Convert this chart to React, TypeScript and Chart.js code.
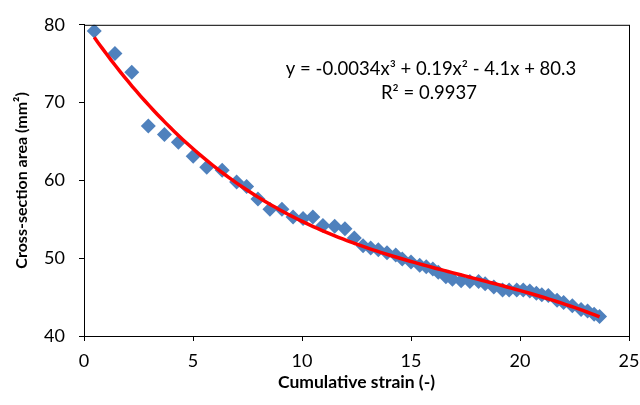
import React, { useEffect, useRef } from "react";
import { Chart, registerables } from "chart.js";

Chart.register(...registerables);

const strainValues = [
  0.47, 1.42, 2.19, 2.95, 3.69, 4.33, 5.01, 5.63, 6.34, 7.0, 7.46, 7.98, 8.53,
  9.08, 9.59, 10.05, 10.5, 10.96, 11.5, 11.97, 12.4, 12.8, 13.15, 13.5, 13.9,
  14.3, 14.6, 15.0, 15.4, 15.7, 16.0, 16.25, 16.6, 16.9, 17.3, 17.7, 18.1,
  18.4, 18.8, 19.2, 19.5, 19.85, 20.15, 20.45, 20.75, 21.0, 21.3, 21.7, 22.0,
  22.4, 22.8, 23.1, 23.4, 23.65,
];
const areaValues = [
  79.2, 76.3, 73.9, 67.0, 65.9, 64.9, 63.1, 61.7, 61.3, 59.8, 59.2, 57.6, 56.3,
  56.3, 55.3, 55.1, 55.3, 54.2, 54.1, 53.8, 52.6, 51.6, 51.3, 51.1, 50.7,
  50.4, 49.9, 49.5, 49.1, 48.9, 48.6, 48.2, 47.6, 47.3, 47.1, 47.0, 47.0,
  46.7, 46.3, 45.9, 45.9, 45.9, 45.9, 45.8, 45.5, 45.3, 45.2, 44.6, 44.3,
  43.9, 43.4, 43.2, 42.8, 42.5,
];
const xTickValues = [0, 5, 10, 15, 20, 25];
const yTickValues = [40, 50, 60, 70, 80];
const equationText = "y = -0.0034x\u00B3 + 0.19x\u00B2 - 4.1x + 80.3";
const r2Text = "R\u00B2 = 0.9937";
const xTitle = "Cumulative strain (-)";
const yTitle = "Cross-section area (mm\u00B2)";

// Least-squares cubic trendline (as the spreadsheet does)
function cubicFit(xs: number[], ys: number[]): number[] {
  const n = 4;
  const A: number[][] = [];
  for (let i = 0; i < n; i++) {
    const row: number[] = [];
    for (let j = 0; j < n; j++) {
      let s = 0;
      for (let k = 0; k < xs.length; k++) s += Math.pow(xs[k], i + j);
      row.push(s);
    }
    let b = 0;
    for (let k = 0; k < xs.length; k++) b += ys[k] * Math.pow(xs[k], i);
    row.push(b);
    A.push(row);
  }
  for (let c = 0; c < n; c++) {
    let p = c;
    for (let r = c + 1; r < n; r++) if (Math.abs(A[r][c]) > Math.abs(A[p][c])) p = r;
    [A[c], A[p]] = [A[p], A[c]];
    for (let r = 0; r < n; r++) {
      if (r === c) continue;
      const f = A[r][c] / A[c][c];
      for (let j = c; j <= n; j++) A[r][j] -= f * A[c][j];
    }
  }
  return A.map((row, i) => row[n] / row[i]);
}

const FONT = "Lato, 'Open Sans', sans-serif";

export default function App() {
  const ref = useRef<HTMLCanvasElement | null>(null);
  useEffect(() => {
    document.body.style.margin = "0";
    const coef = cubicFit(strainValues, areaValues);
    const xmin = Math.min(...strainValues);
    const xmax = Math.max(...strainValues);
    const trend: { x: number; y: number }[] = [];
    const steps = 120;
    for (let i = 0; i <= steps; i++) {
      const x = xmin + ((xmax - xmin) * i) / steps;
      trend.push({ x, y: coef[0] + coef[1] * x + coef[2] * x * x + coef[3] * x * x * x });
    }
    const points = strainValues.map((x, i) => ({ x, y: areaValues[i] }));

    const framePlugin = {
      id: "frame",
      afterDraw(chart: any) {
        const { ctx, chartArea } = chart;
        ctx.save();
        ctx.strokeStyle = "#000";
        ctx.lineWidth = 1;
        ctx.strokeRect(chartArea.left + 0.5, chartArea.top + 0.5, chartArea.right - chartArea.left, chartArea.bottom - chartArea.top);
        ctx.fillStyle = "#000";
        ctx.font = `18.5px ${FONT}`;
        ctx.textAlign = "center";
        ctx.textBaseline = "middle";
        ctx.fillText(equationText, 431, 69);
        ctx.fillText(r2Text, 429, 93);
        ctx.restore();
      },
    };

    const chart = new Chart(ref.current as HTMLCanvasElement, {
      type: "scatter",
      data: {
        datasets: [
          {
            type: "line",
            data: trend,
            borderColor: "#FF0000",
            borderWidth: 3.5,
            pointRadius: 0,
            fill: false,
            tension: 0,
            order: 0,
          } as any,
          {
            data: points,
            pointStyle: "rectRot",
            pointRadius: 7.5,
            backgroundColor: "#4F81BD",
            borderColor: "#4F81BD",
            borderWidth: 0,
            order: 1,
          },
        ],
      },
      options: {
        animation: false,
        responsive: false,
        events: [],
        layout: { padding: { left: 8, top: 15, right: 0, bottom: 12 } },
        plugins: { legend: { display: false }, tooltip: { enabled: false } },
        scales: {
          x: {
            type: "linear",
            min: 0,
            max: 25,
            afterBuildTicks: (s: any) => {
              s.ticks = xTickValues.map((v) => ({ value: v }));
            },
            afterFit: (s: any) => {
              s.height = 57;
              s.paddingRight = 11;
              s.paddingLeft = 0;
            },
            grid: { drawOnChartArea: false, drawTicks: true, tickLength: 5, color: "#000" },
            border: { color: "#000", width: 1 },
            ticks: { color: "#000", font: { family: FONT, size: 18 }, padding: 9, maxRotation: 0 },
            title: { display: true, text: xTitle, color: "#000", font: { family: FONT, size: 17.5, weight: "bold" }, padding: { top: 0, bottom: 0 } },
          },
          y: {
            type: "linear",
            min: 40,
            max: 80,
            afterBuildTicks: (s: any) => {
              s.ticks = yTickValues.map((v) => ({ value: v }));
            },
            afterFit: (s: any) => {
              s.width = 76;
            },
            grid: { drawOnChartArea: false, drawTicks: true, tickLength: 5, color: "#000" },
            border: { color: "#000", width: 1 },
            ticks: { color: "#000", font: { family: FONT, size: 18 }, padding: 14 },
            title: { display: true, text: yTitle, color: "#000", font: { family: FONT, size: 16, weight: "bold" }, padding: { top: 4, bottom: 0 } },
          },
        },
      },
      plugins: [framePlugin],
    });
    return () => chart.destroy();
  }, []);
  return <canvas ref={ref} width={640} height={405} style={{ display: "block" }} />;
}
